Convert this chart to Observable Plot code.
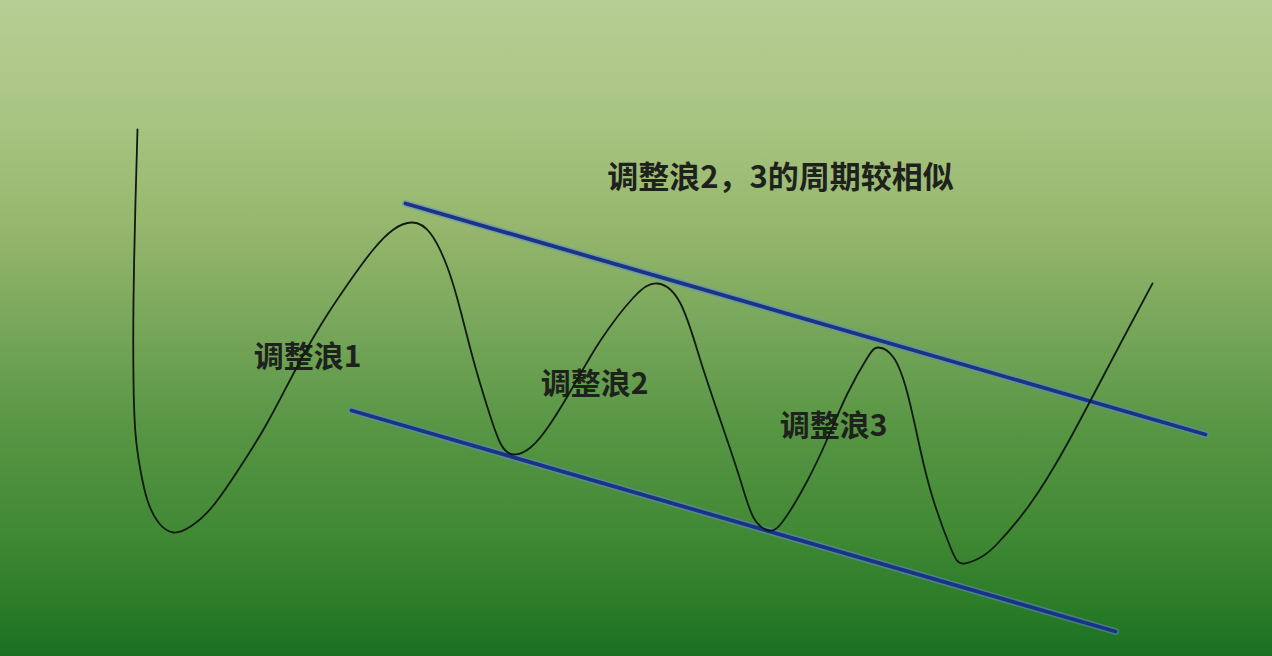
<!DOCTYPE html>
<html>
<head>
<meta charset="utf-8">
<script src="https://cdn.jsdelivr.net/npm/d3@7"></script>
<script src="https://cdn.jsdelivr.net/npm/@observablehq/plot@0.6"></script>
<style>
  html, body { margin: 0; padding: 0; background: #7aa85a; overflow: hidden; }
  #chart svg { display: block; }
</style>
</head>
<body>
<div id="chart"></div>
<script>
// Wave path: horizontal position (t) and level (higher = up)
const waveT = [137, 135, 133, 133, 135, 140, 147, 158, 173, 190, 212, 240, 267, 293, 320, 347, 372, 393, 412, 430, 447, 460, 473, 487, 500, 513, 530, 550, 575, 600, 633, 657, 680, 700, 720, 740, 753, 768, 783, 807, 827, 847, 867, 878, 893, 907, 920, 933, 950, 962, 980, 997, 1030, 1063, 1090, 1120, 1152];
const waveLevel = [527, 456, 356, 276, 223, 186, 156, 134, 124, 130, 150, 190, 234, 283, 331, 372, 406, 427, 434, 423, 389, 346, 296, 249, 213, 202, 209, 233, 274, 316, 359, 373, 353, 296, 236, 176, 139, 126, 136, 176, 218, 263, 299, 309, 299, 263, 206, 156, 109, 93, 99, 113, 153, 206, 256, 313, 373];

// Channel lines (start / end)
const upperT = [405, 1205];
const upperLevel = [453, 222];
const lowerT = [351, 1115];
const lowerLevel = [246, 25];

// Labels
const labelText = ["调整浪1", "调整浪2", "调整浪3"];
const labelT = [307, 594, 833];
const labelLevel = [299, 272, 230];
const titleText = ["调整浪2，3的周期较相似"];
const titleT = [780];
const titleLevel = [478];

const wave = waveT.map((t, i) => ({t, v: waveLevel[i]}));
const upper = upperT.map((t, i) => ({t, v: upperLevel[i]}));
const lower = lowerT.map((t, i) => ({t, v: lowerLevel[i]}));
const labels = labelText.map((s, i) => ({s, t: labelT[i], v: labelLevel[i]}));
const title = titleText.map((s, i) => ({s, t: titleT[i], v: titleLevel[i]}));

const fontFam = "'Noto Sans CJK SC', 'Noto Sans', sans-serif";

const chart = Plot.plot({
  width: 1272,
  height: 656,
  margin: 0,
  x: {domain: [0, 1272], axis: null},
  y: {domain: [0, 656], axis: null},
  style: {
    background: "linear-gradient(to bottom, #b6ce93 0%, #a9c582 18%, #95b66c 35%, #77a65a 50%, #569543 66%, #438a36 80%, #2c7c28 92%, #1a7020 100%)",
    fontFamily: fontFam
  },
  marks: [
    Plot.text(labels, {x: "t", y: "v", text: "s", fontSize: 30, fontWeight: "bold", fill: "#1e221c", textAnchor: "middle", fontFamily: fontFam}),
    Plot.text(title, {x: "t", y: "v", text: "s", fontSize: 31, fontWeight: "bold", fill: "#1e221c", textAnchor: "middle", fontFamily: fontFam}),
    Plot.line(upper, {x: "t", y: "v", stroke: "#5d8bd0", strokeWidth: 7, strokeOpacity: 0.55}),
    Plot.line(lower, {x: "t", y: "v", stroke: "#5d8bd0", strokeWidth: 7, strokeOpacity: 0.55}),
    Plot.line(upper, {x: "t", y: "v", stroke: "#1b3386", strokeWidth: 3.8}),
    Plot.line(lower, {x: "t", y: "v", stroke: "#1b3386", strokeWidth: 3.8}),
    Plot.line(wave, {x: "t", y: "v", stroke: "#0f1a10", strokeWidth: 1.8, curve: "natural"})
  ]
});
document.getElementById("chart").appendChild(chart);
</script>
</body>
</html>
